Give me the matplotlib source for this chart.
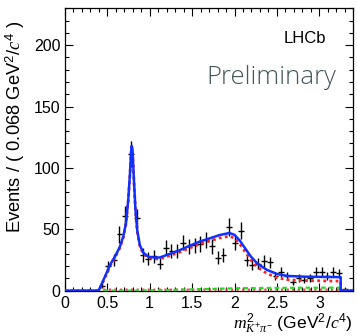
import numpy as np
import matplotlib
matplotlib.use('Agg')
import matplotlib.pyplot as plt
from matplotlib.ticker import MultipleLocator

# binned data: 50 bins of 0.068 GeV^2/c^4 from 0 to 3.4
bin_width = 0.068
counts = [0, 0, 0, 0, 0, 0, 4, 20, 25, 46,
          61, 111, 59, 29, 26, 28, 22, 35, 32, 32,
          39, 36, 37, 38, 41, 36, 27, 29, 52, 39,
          49, 25, 21, 22, 24, 23, 12, 15, 12, 7,
          10, 9, 10, 15, 15, 12, 15, 14, 1, 0]

# total fit curve
fit_x = [0.0, 0.40, 0.42, 0.475, 0.534, 0.593, 0.651, 0.69, 0.722, 0.749,
         0.769, 0.782, 0.790, 0.800, 0.816, 0.835, 0.855, 0.886, 0.925, 0.984,
         1.05, 1.12, 1.24, 1.356, 1.473, 1.59, 1.707, 1.825, 1.94, 2.0,
         2.06, 2.11, 2.19, 2.27, 2.38, 2.50, 2.62, 2.82, 3.0, 3.25,
         3.25, 3.4]
fit_total = [0, 0, 3, 11.4, 21, 27.7, 35.8, 44, 55, 74,
             95, 112, 118, 114, 90, 65, 49, 37, 31, 27.7,
             27, 27, 30, 33, 36.6, 40, 42.6, 45.3, 47, 45.5,
             41, 36, 28, 22, 17, 13.6, 12, 11.4, 11.2, 11,
             0, 0]
# small background components
fit_green = [0, 0, 0, 0, 0, 0, 0, 0, 0, 0,
             0, 0, 0, 0, 0, 0, 0, 0, 0, 0.2,
             0.3, 0.4, 0.6, 0.8, 1.0, 1.2, 1.4, 1.6, 1.8, 1.9,
             2.0, 2.0, 2.1, 2.1, 2.2, 2.2, 2.3, 2.4, 2.4, 2.5,
             0, 0]
fit_pink = [0, 0, 0.8, 0.8, 0.8, 0.8, 0.8, 0.8, 0.8, 0.8,
            0.8, 0.8, 0.8, 0.8, 0.8, 0.8, 0.8, 0.8, 0.8, 0.8,
            0.8, 0.8, 0.8, 0.8, 0.8, 0.8, 0.8, 0.8, 0.8, 0.8,
            0.8, 0.8, 0.8, 0.8, 0.8, 0.8, 0.8, 0.8, 0.8, 0.8,
            0, 0]

plt.rcParams['font.family'] = ['Liberation Sans', 'DejaVu Sans']
plt.rcParams['mathtext.fontset'] = 'custom'
plt.rcParams['mathtext.rm'] = 'Liberation Sans'
plt.rcParams['mathtext.it'] = 'Liberation Serif:italic'

fig = plt.figure(figsize=(3.57, 3.36), dpi=100)
ax = fig.add_axes([0.181, 0.135, 0.809, 0.840])

centers = bin_width * (np.arange(len(counts)) + 0.5)
y = np.array(counts, dtype=float)
ax.errorbar(centers, y, xerr=bin_width / 2, yerr=np.sqrt(y), fmt='none',
            ecolor='black', elinewidth=1.0, capsize=0, zorder=2)

fx = np.array(fit_x)
tot = np.array(fit_total)
green = np.array(fit_green)
pink = np.array(fit_pink)
red = tot - green - pink

ax.plot(fx, pink, color='#ff3355', lw=1.6, ls=(0, (1, 1.5)), zorder=3)
ax.plot(fx, green, color='#22dd22', lw=1.6, ls=(0, (2, 1.5)), zorder=3)
ax.plot(fx, red, color='#ff2020', lw=2.0, ls=(0, (1, 1.2)), zorder=3)
ax.plot(fx, tot, color='#1030ff', lw=1.8, zorder=4)

ax.set_xlim(0, 3.4)
ax.set_ylim(0, 230)
ax.xaxis.set_major_locator(MultipleLocator(0.5))
ax.xaxis.set_minor_locator(MultipleLocator(0.1))
ax.yaxis.set_major_locator(MultipleLocator(50))
ax.yaxis.set_minor_locator(MultipleLocator(10))
ax.set_xticks([0, 0.5, 1, 1.5, 2, 2.5, 3])
ax.set_xticklabels(['0', '0.5', '1', '1.5', '2', '2.5', '3'])
ax.tick_params(which='both', direction='in', top=True, right=True,
               labelsize=11.5, width=0.8)
ax.tick_params(which='major', length=6)
ax.tick_params(which='minor', length=3)
ax.tick_params(axis='x', pad=4)
ax.tick_params(axis='y', pad=3)
for s in ax.spines.values():
    s.set_linewidth(0.9)

ax.set_ylabel('Events / ( 0.068 GeV$^{2}$/$c^{4}$ )', fontsize=13.2,
              ha='right')
ax.yaxis.set_label_coords(-0.13, 0.955)
ax.set_xlabel(r'$m^{2}_{K^{+}\pi^{-}}$ (GeV$^{2}$/$c^{4}$)', fontsize=12.6,
              ha='right')
ax.xaxis.set_label_coords(0.998, -0.077)

ax.text(0.905, 0.895, 'LHCb', transform=ax.transAxes, fontsize=12,
        ha='right', va='center', color='black')
ax.text(0.94, 0.755, 'Preliminary', transform=ax.transAxes, fontsize=18.5,
        ha='right', va='center', color='#46565d', family='Open Sans',
        fontweight='light')

fig.savefig('out.png', dpi=100)
